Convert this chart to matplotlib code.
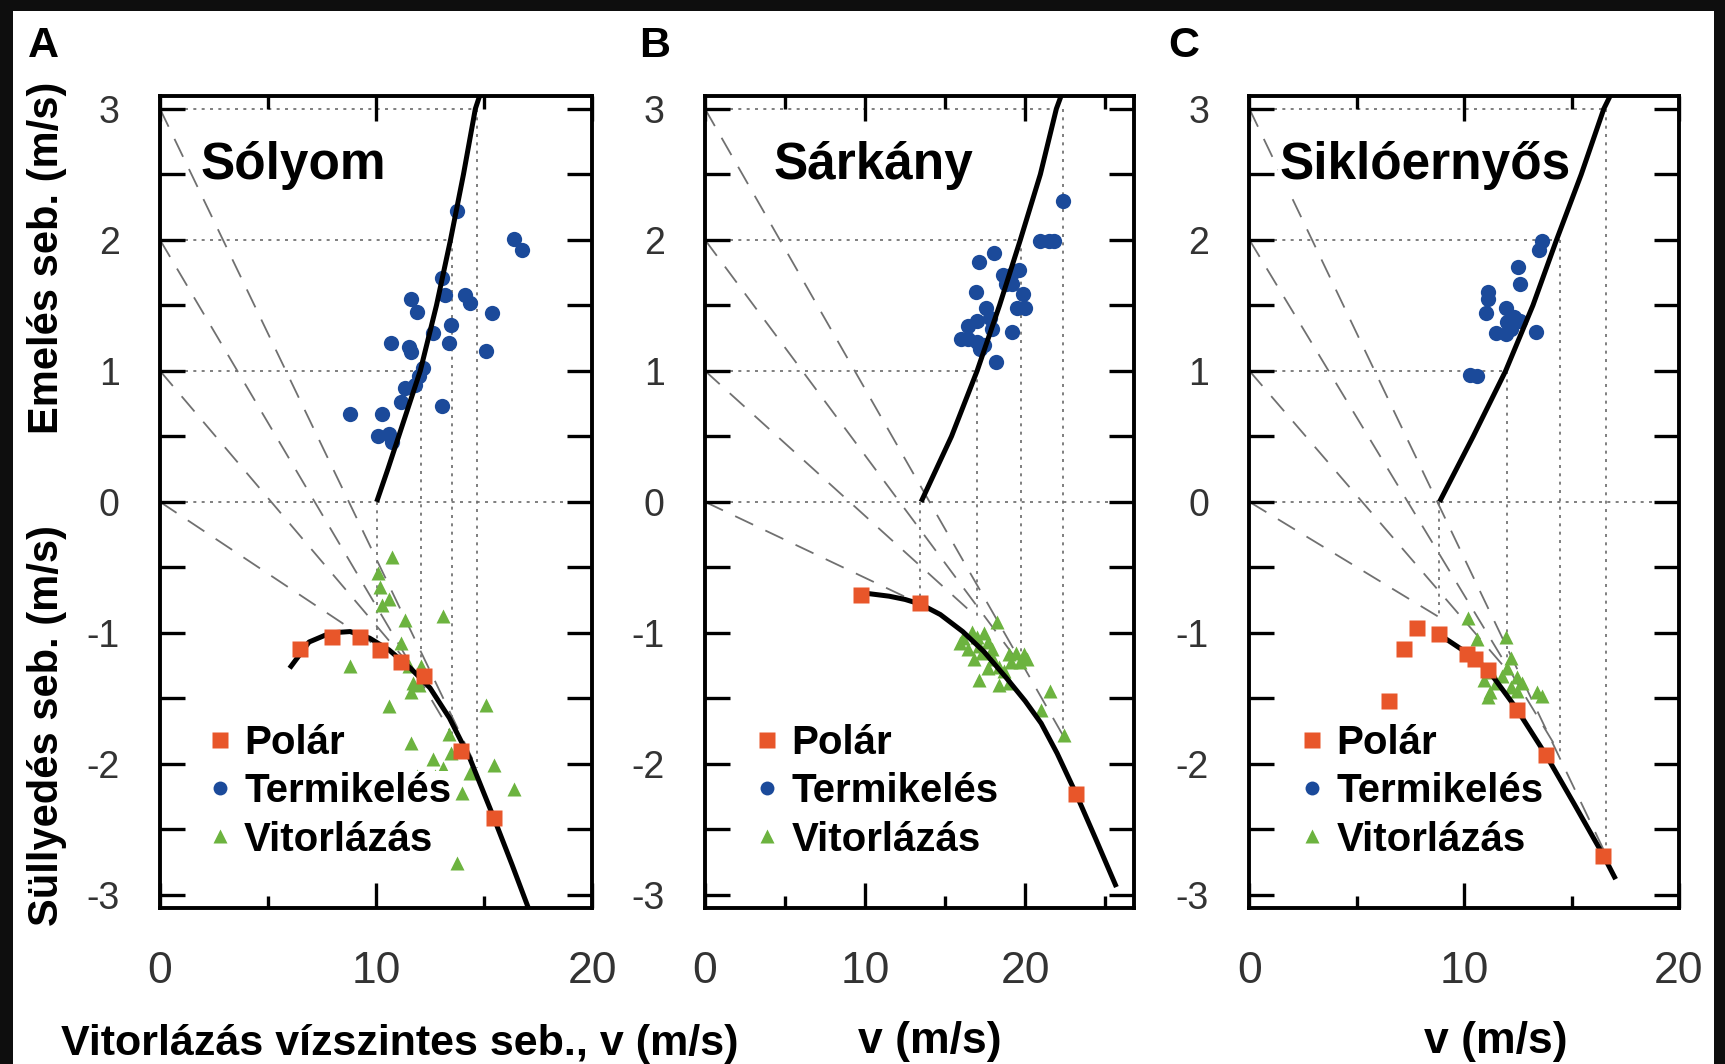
import matplotlib
matplotlib.use("Agg")
import matplotlib.pyplot as plt
from matplotlib.ticker import MultipleLocator, FuncFormatter
from matplotlib.lines import Line2D
from matplotlib.patches import Rectangle

plt.rcParams["font.family"] = ["Liberation Sans", "DejaVu Sans"]

# thermal climb levels used for the speed-to-fly construction
CLIMB_LEVELS = [0, 1, 2, 3]
LEGEND_LABELS = ["Polár", "Termikelés", "Vitorlázás"]

# --- A: Sólyom ---
A_POLAR_V = [6.48, 7.97, 9.25, 10.2, 11.15, 12.2, 13.93, 15.46]
A_POLAR_W = [-1.12, -1.03, -1.03, -1.13, -1.22, -1.33, -1.9, -2.41]
A_FIT_V = [6.0, 6.9, 7.9, 8.8, 9.7, 10.6, 11.6, 12.5, 13.4, 14.35, 15.45, 16.3, 17.1]
A_FIT_W = [-1.27, -1.07, -1.0, -0.99, -1.04, -1.13, -1.27, -1.42, -1.65, -1.96, -2.41, -2.77, -3.12]
A_CLIMB_V = [10.03, 10.55, 11.05, 11.55, 12.05, 12.8, 13.45, 14.05, 14.6, 14.8]
A_CLIMB_W = [0, 0.25, 0.5, 0.75, 1.0, 1.5, 2.0, 2.5, 3.0, 3.1]
A_THERM_V = [13.74, 16.39, 16.76, 13.06, 11.63, 13.19, 14.1, 14.37, 11.9, 15.38, 13.46, 12.64, 10.68, 11.54,
             11.63, 13.37, 15.1, 12.18, 12.0, 11.81, 11.35, 11.17, 13.06, 8.8, 10.26, 10.08, 10.62, 10.72]
A_THERM_W = [2.22, 2.01, 1.92, 1.71, 1.55, 1.58, 1.58, 1.52, 1.45, 1.44, 1.35, 1.29, 1.21, 1.18,
             1.14, 1.21, 1.15, 1.02, 0.96, 0.89, 0.87, 0.76, 0.73, 0.67, 0.67, 0.50, 0.52, 0.46]
A_GLIDE_V = [10.72, 10.07, 10.17, 10.62, 10.26, 11.35, 13.1, 11.17, 8.8, 11.54, 12.1, 11.7, 11.63, 12.0,
             10.62, 15.1, 13.37, 11.63, 13.46, 12.64, 13.1, 15.47, 14.37, 12.72, 11.9, 16.39, 14.0, 13.74]
A_GLIDE_W = [-0.42, -0.545, -0.65, -0.74, -0.79, -0.90, -0.875, -1.08, -1.25, -1.25, -1.25, -1.38, -1.45, -1.40,
             -1.56, -1.55, -1.77, -1.84, -1.92, -1.96, -2.03, -2.01, -2.07, -2.09, -2.09, -2.19, -2.22, -2.76]
A_OPT_V = [10.03, 12.1, 13.5, 14.66]
A_OPT_END = [-1.1, -1.35, -1.77, -2.03]

# --- B: Sárkány ---
B_POLAR_V = [9.75, 13.44, 23.15]
B_POLAR_W = [-0.71, -0.77, -2.23]
B_FIT_V = [10.2, 11.5, 12.5, 13.45, 14.7, 16.1, 17.4, 18.8, 20.0, 21.0, 22.0, 23.15, 24.4, 25.7]
B_FIT_W = [-0.70, -0.72, -0.745, -0.78, -0.86, -0.99, -1.14, -1.34, -1.52, -1.69, -1.92, -2.22, -2.57, -2.94]
B_CLIMB_V = [13.5, 15.4, 17.0, 18.4, 19.7, 20.95, 21.95, 22.25]
B_CLIMB_W = [0, 0.5, 1.0, 1.5, 2.0, 2.5, 3.0, 3.1]
B_THERM_V = [22.37, 20.9, 21.47, 21.8, 18.08, 17.1, 19.6, 18.6, 19.1, 18.8, 19.2, 16.9, 19.87, 17.56,
             19.5, 20.0, 17.0, 17.8, 17.9, 16.4, 19.2, 16.0, 16.4, 17.0, 17.4, 17.2, 18.2]
B_THERM_W = [2.30, 1.99, 1.99, 1.99, 1.90, 1.83, 1.77, 1.73, 1.73, 1.66, 1.66, 1.60, 1.59, 1.48,
             1.48, 1.48, 1.38, 1.40, 1.32, 1.34, 1.30, 1.24, 1.24, 1.22, 1.20, 1.17, 1.07]
B_GLIDE_V = [18.25, 16.1, 16.7, 17.0, 17.4, 17.7, 17.1, 16.4, 17.9, 17.3, 16.8, 18.0, 19.0, 19.4,
             19.9, 20.1, 19.1, 19.7, 18.35, 17.7, 18.7, 17.1, 18.35, 19.0, 21.56, 21.0, 22.4, 15.9]
B_GLIDE_W = [-0.92, -1.04, -0.99, -1.03, -1.0, -1.07, -1.10, -1.12, -1.12, -1.15, -1.20, -1.20, -1.16, -1.15,
             -1.16, -1.20, -1.22, -1.22, -1.26, -1.27, -1.29, -1.36, -1.40, -1.38, -1.44, -1.59, -1.78, -1.08]
B_OPT_V = [13.45, 16.98, 19.75, 22.35]
B_OPT_END = [-0.78, -0.88, -1.25, -1.78]

# --- C: Siklóernyős ---
C_POLAR_V = [6.49, 7.2, 7.8, 8.82, 10.13, 10.52, 11.1, 12.44, 13.8, 16.45]
C_POLAR_W = [-1.52, -1.12, -0.96, -1.01, -1.16, -1.2, -1.28, -1.59, -1.93, -2.70]
C_FIT_V = [9.0, 10.1, 11.1, 12.4, 13.8, 15.1, 16.45, 17.05]
C_FIT_W = [-1.03, -1.15, -1.28, -1.57, -1.93, -2.30, -2.69, -2.88]
C_CLIMB_V = [8.85, 10.42, 11.93, 13.2, 14.3, 15.45, 16.5, 16.8]
C_CLIMB_W = [0, 0.5, 1.0, 1.5, 2.0, 2.5, 3.0, 3.1]
C_THERM_V = [13.6, 13.5, 12.5, 12.6, 11.1, 11.1, 11.93, 11.0, 12.3, 12.6, 12.0, 13.36, 11.5, 11.93, 12.2, 10.25, 10.6]
C_THERM_W = [1.99, 1.92, 1.79, 1.66, 1.60, 1.55, 1.48, 1.44, 1.41, 1.38, 1.37, 1.30, 1.29, 1.28, 1.32, 0.97, 0.96]
C_GLIDE_V = [10.2, 11.93, 10.6, 12.2, 12.0, 11.26, 11.75, 12.44, 10.9, 11.5, 12.7, 12.2, 11.18, 13.4, 13.6, 11.1, 12.44]
C_GLIDE_W = [-0.89, -1.03, -1.05, -1.19, -1.27, -1.30, -1.33, -1.34, -1.36, -1.38, -1.38, -1.41, -1.45, -1.45,
             -1.48, -1.49, -1.44]
C_OPT_V = [8.83, 11.97, 14.45, 16.62]
C_OPT_END = [-0.88, -1.28, -1.92, -2.70]

SQ_COLOR = "#E8562A"
DOT_COLOR = "#1B4A9A"
TRI_COLOR = "#6CB33F"
TICK_COLOR = "#333333"

W, H = 1725, 1064
fig = plt.figure(figsize=(W / 100, H / 100), dpi=100)
fig.patch.set_facecolor("#0e0e0e")
fig.add_artist(Rectangle((13 / W, 0), (1714 - 13) / W, (H - 11) / H, transform=fig.transFigure,
                         facecolor="white", edgecolor="none", zorder=0))


def int_label(v, pos):
    return "%d" % round(v)


def draw_panel(rect, xmax, polar_v, polar_w, fit_v, fit_w, climb_v, climb_w,
               therm_v, therm_w, glide_v, glide_w, opt_v, opt_end, title, title_x, leg_x):
    ax = fig.add_axes(rect)
    ax.set_xlim(0, xmax)
    ax.set_ylim(-3.1, 3.1)

    dotted = dict(color="#6a6a6a", lw=1.2, ls=(0, (1.8, 3.2)), zorder=1)
    dashed = dict(color="#707070", lw=1.3, ls=(0, (11, 7.5)), zorder=1)
    ax.plot([0, xmax], [0, 0], **dotted)
    for w, v, end in zip(CLIMB_LEVELS, opt_v, opt_end):
        if w > 0:
            ax.plot([0, v], [w, w], **dotted)
        ax.plot([v, v], [w, end], **dotted)
        ax.plot([0, v], [w, end], **dashed)

    ax.plot(glide_v, glide_w, ls="none", marker="^", ms=10, mfc=TRI_COLOR, mec="none", zorder=3)
    ax.plot(therm_v, therm_w, ls="none", marker="o", ms=11, mfc=DOT_COLOR, mec="none", zorder=3)
    ax.plot(fit_v, fit_w, color="black", lw=3.6, zorder=4, solid_capstyle="butt")
    ax.plot(climb_v, climb_w, color="black", lw=3.6, zorder=4, solid_capstyle="butt")
    ax.plot(polar_v, polar_w, ls="none", marker="s", ms=11, mfc=SQ_COLOR, mec="none", zorder=5)

    ax.xaxis.set_major_locator(MultipleLocator(10))
    ax.xaxis.set_minor_locator(MultipleLocator(5))
    ax.yaxis.set_major_locator(MultipleLocator(1))
    ax.yaxis.set_minor_locator(MultipleLocator(0.5))
    ax.xaxis.set_major_formatter(FuncFormatter(int_label))
    ax.yaxis.set_major_formatter(FuncFormatter(int_label))
    ax.tick_params(which="both", direction="in", top=True, right=True, width=2.4, color="black")
    ax.tick_params(axis="x", which="major", length=18, pad=31, labelsize=32, labelcolor=TICK_COLOR)
    ax.tick_params(axis="x", which="minor", length=9)
    ax.tick_params(axis="y", which="both", length=18)
    ax.tick_params(axis="y", which="major", pad=29, labelsize=27, labelcolor=TICK_COLOR)
    for sp in ax.spines.values():
        sp.set_linewidth(2.8)

    ax.text(title_x, 0.8975, title, transform=ax.transAxes, fontsize=37, fontweight="bold",
            va="baseline", ha="left", zorder=6,
            bbox=dict(facecolor="white", edgecolor="none", pad=1))

    handles = [
        Line2D([], [], ls="none", marker="s", ms=11, mfc=SQ_COLOR, mec="none"),
        Line2D([], [], ls="none", marker="o", ms=10, mfc=DOT_COLOR, mec="none"),
        Line2D([], [], ls="none", marker="^", ms=10, mfc=TRI_COLOR, mec="none"),
    ]
    leg = ax.legend(handles, LEGEND_LABELS, loc="upper left", bbox_to_anchor=(leg_x, 0.226),
                    frameon=False, borderpad=0, borderaxespad=0, handlelength=0.6,
                    handletextpad=0.3, labelspacing=0.25,
                    prop={"weight": "bold", "size": 29})
    for t in leg.get_texts():
        t.set_bbox(dict(facecolor="white", edgecolor="none", pad=1))
    return ax


bottom = 1 - 908 / H
height = 812.3 / H
draw_panel([160 / W, bottom, 432 / W, height], 20, A_POLAR_V, A_POLAR_W, A_FIT_V, A_FIT_W,
           A_CLIMB_V, A_CLIMB_W, A_THERM_V, A_THERM_W, A_GLIDE_V, A_GLIDE_W,
           A_OPT_V, A_OPT_END, "Sólyom", 0.093, 0.111)
draw_panel([705 / W, bottom, 429 / W, height], 26.8, B_POLAR_V, B_POLAR_W, B_FIT_V, B_FIT_W,
           B_CLIMB_V, B_CLIMB_W, B_THERM_V, B_THERM_W, B_GLIDE_V, B_GLIDE_W,
           B_OPT_V, B_OPT_END, "Sárkány", 0.16, 0.117)
draw_panel([1249.4 / W, bottom, 429.6 / W, height], 20, C_POLAR_V, C_POLAR_W, C_FIT_V, C_FIT_W,
           C_CLIMB_V, C_CLIMB_W, C_THERM_V, C_THERM_W, C_GLIDE_V, C_GLIDE_W,
           C_OPT_V, C_OPT_END, "Siklóernyős", 0.069, 0.118)

# panel letters
for letter, x in [("A", 28), ("B", 639), ("C", 1168)]:
    fig.text(x / W, 1 - 57 / H, letter, fontsize=31, fontweight="bold", va="baseline", ha="left")

# axis titles
fig.text(47.5 / W, 1 - 258 / H, "Emelés seb. (m/s)", rotation=90, fontsize=30, fontweight="bold",
         ha="center", va="center")
fig.text(47.5 / W, 1 - 726 / H, "Süllyedés seb. (m/s)", rotation=90, fontsize=30, fontweight="bold",
         ha="center", va="center")
fig.text(399.5 / W, 1 - 1055 / H, "Vitorlázás vízszintes seb., v (m/s)", fontsize=31, fontweight="bold",
         ha="center", va="baseline")
fig.text(930 / W, 1 - 1053 / H, "v (m/s)", fontsize=32, fontweight="bold", ha="center", va="baseline")
fig.text(1496 / W, 1 - 1053 / H, "v (m/s)", fontsize=32, fontweight="bold", ha="center", va="baseline")

fig.savefig("out.png", dpi=100, facecolor=fig.get_facecolor())
